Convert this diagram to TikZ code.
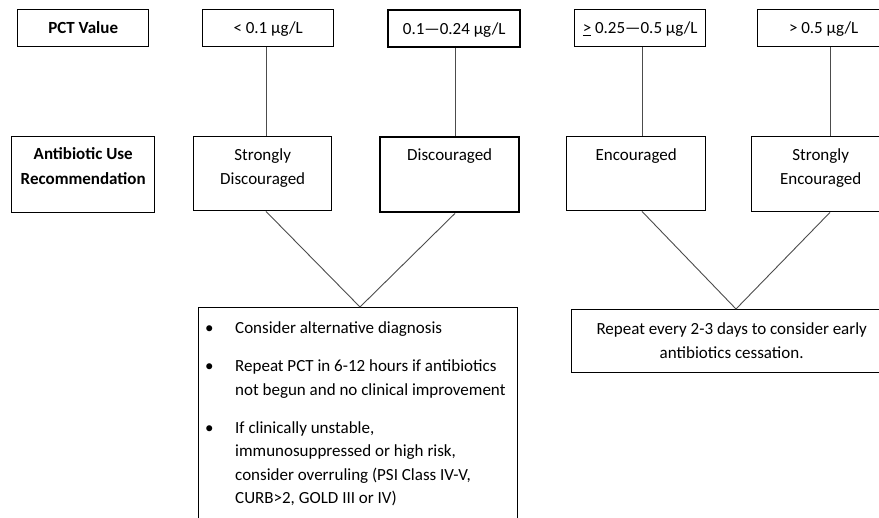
\documentclass[tikz,border=0pt]{standalone}
\usepackage{fontspec}
\setmainfont{Carlito}
\usetikzlibrary{positioning,calc}

\tikzset{
    valbox/.style={draw, line width=1.4pt, inner sep=0pt, anchor=north west,
        minimum height=37pt, text height=11pt, text depth=0pt},
    recbox/.style={draw, line width=1.4pt, inner sep=0pt, anchor=north west},
    heavy/.style={line width=2.4pt},
    boxtext/.style={anchor=base, inner sep=0pt, align=center},
    bold/.style={font=\fontsize{17}{24.5}\selectfont\bfseries},
    link/.style={draw=black!70, line width=0.9pt}
}

\begin{document}
\fontsize{17}{24.5}\selectfont
\begin{tikzpicture}[x=1pt, y=-1pt]
        % Frame of the picture
        \useasboundingbox (0,0) rectangle (879,518);
        \clip (0,0) rectangle (879,518);

        % Columns of the connectors and the two meeting points
        \coordinate (X1) at (266,0);
        \coordinate (X2) at (455,0);
        \coordinate (X3) at (642,0);
        \coordinate (X4) at (830,0);
        \coordinate (P1) at (360,0);
        \coordinate (P2) at (736,0);

        % PCT values
        \node[valbox, bold, minimum width=131pt] (pct) at (17,9) {PCT Value};
        \node[valbox, minimum width=131pt] (V1) at (202,9) {< 0.1 µg/L};
        \node[valbox, heavy, minimum width=132pt] (V2) at (387,9) {0.1—0.24 µg/L};
        \node[valbox, minimum width=131pt] (V3) at (574,9) {\underline{>} 0.25—0.5 µg/L};
        \node[valbox, minimum width=132pt] (V4) at (757,9) {> 0.5 µg/L};

        % Recommendations
        \node[recbox, minimum width=143pt, minimum height=76pt] (use) at (11,136) {};
        \node[recbox, minimum width=138pt, minimum height=74pt] (R1) at (193,136) {};
        \node[recbox, heavy, minimum width=139pt, minimum height=75pt] (R2) at (379,136) {};
        \node[recbox, minimum width=139pt, minimum height=74pt] (R3) at (566,136) {};
        \node[recbox, minimum width=138pt, minimum height=75pt] (R4) at (751,136) {};

        % base of a two-line text is its last line
        \node[boxtext, bold] (uset) at ([yshift=-48.5pt]use.north) {Antibiotic Use\\Recommendation};
        \node[boxtext] (R1t) at ([yshift=-49pt]R1.north) {Strongly\\Discouraged};
        \node[boxtext] (R2t) at ([yshift=-24.5pt]R2.north) {Discouraged};
        \node[boxtext] (R3t) at ([yshift=-24.5pt]R3.north) {Encouraged};
        \node[boxtext] (R4t) at ([yshift=-49pt]R4.north) {Strongly\\Encouraged};

        % Advice
        \node[recbox, minimum width=319pt, minimum height=220pt] (B1) at (198,307) {};
        \node[recbox, minimum width=320pt, minimum height=63pt] (B2) at (571,309) {};

        \node[anchor=base west, inner sep=0pt] (B1t) at (205,334)
        {\fontsize{17}{23.5}\selectfont
        \begin{tabular}[t]{@{}p{30pt}@{}l@{}}
            \textbullet & Consider alternative diagnosis\\[14.5pt]
            \textbullet & Repeat PCT in 6-12 hours if antibiotics\\
                        & not begun and no clinical improvement\\[14.5pt]
            \textbullet & If clinically unstable,\\
                        & immunosuppressed or high risk,\\
                        & consider overruling (PSI Class IV-V,\\
                        & CURB>2, GOLD III or IV)
        \end{tabular}};
        \node[boxtext] (B2t) at ([yshift=-50pt]B2.north)
        {Repeat every 2-3 days to consider early\\antibiotics cessation.};

        \begin{scope}[link]
            \draw (V1.south -| X1) -- (R1.north -| X1);
            \draw (V2.south -| X2) -- (R2.north -| X2);
            \draw (V3.south -| X3) -- (R3.north -| X3);
            \draw (V4.south -| X4) -- (R4.north -| X4);

            \draw (R1.south -| X1) -- (B1.north -| P1) -- (R2.south -| X2);
            \draw (R3.south -| X3) -- (B2.north -| P2) -- (R4.south -| X4);
        \end{scope}

\end{tikzpicture}
\end{document}
